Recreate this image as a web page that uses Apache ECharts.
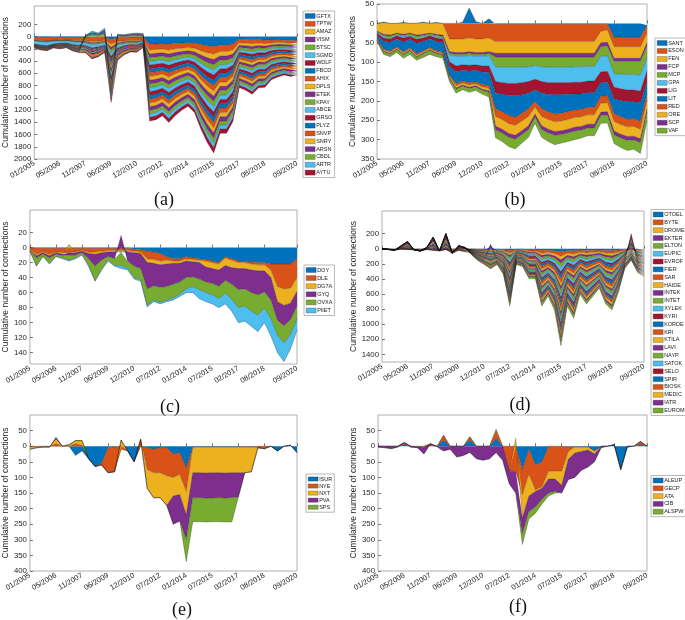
<!DOCTYPE html>
<html><head><meta charset="utf-8">
<script src="https://cdn.jsdelivr.net/npm/echarts@6.0.0/dist/echarts.min.js"></script>
<style>html,body{margin:0;padding:0;background:#fff;}#chart{width:685px;height:620px;}</style>
</head><body><div id="chart"></div>
<script>
// ---------- shared x axis (42 sample points, ticks every 4 samples, last one at the end) ----------
const xTickIdx = [0,4,8,12,16,20,24,28,32,36,41];
const xTickLabels = ['01/2005','05/2006','11/2007','06/2009','12/2010','07/2012','01/2014','07/2015','02/2017','08/2018','09/2020'];

// ---------- y tick values ----------
const yTicksA = [200,0,-200,-400,-600,-800,-1000,-1200,-1400,-1600,-1800,-2000];
const yTicksB = [50,0,-50,-100,-150,-200,-250,-300,-350];
const yTicksC = [20,0,-20,-40,-60,-80,-100,-120,-140];
const yTicksD = [200,0,-200,-400,-600,-800,-1000,-1200,-1400];
const yTicksE = [50,0,-50,-100,-150,-200,-250,-300,-350,-400];
const yTicksF = [50,0,-50,-100,-150,-200,-250,-300,-350,-400];

// ---------- panel (a) ----------
const namesA = ['GFTX','TPTW','AMAZ','VISM','BTSC','SGMD','WDLF','FBCD','AHIX','DPLS','ETEK','KPAY','ABCE','GRSO','PLYZ','SNVP','SNRY','ARSN','CBDL','ARTR','AYTU'];
const a_GFTX = [-4,-5,-5,-4,-6,-5,-6,-7,-8,-10,-9,-7,-50,-12,-10,-8,-8,-5,-125,-120,-115,-125,-110,-105,-100,-105,-130,-150,-160,-140,-140,-125,-40,-45,-50,-45,-60,-55,-50,-60,-65,-55];
const a_TPTW = [-55,-60,-65,-55,-45,-50,-55,-60,-60,-70,-65,-55,-70,-70,-60,-55,-60,-50,-95,-90,-90,-95,-90,-85,-80,-85,-100,-115,-125,-105,-105,-95,-60,-62,-65,-60,-55,-48,-45,-42,-44,-42];
const a_AMAZ = [-4,-6,-5,-4,-7,-5,-8,-9,-13,-19,-17,-13,-52,-21,-16,-13,-13,-8,-64,-62,-60,-65,-60,-55,-52,-58,-70,-80,-88,-73,-72,-64,-40,-42,-45,-40,-39,-33,-31,-29,-30,-29];
const a_VISM = [-3,-5,-4,-4,-6,-4,-7,-7,-11,-17,-15,-11,-48,-19,-14,-11,-11,-7,-60,-60,-57,-62,-57,-53,-50,-55,-67,-77,-85,-70,-70,-61,-38,-40,-43,-38,-37,-31,-29,-27,-28,-27];
const a_BTSC = [-5,-5,-6,-4,-6,-6,-7,-9,-12,-18,-16,-12,-50,-20,-15,-12,-12,-8,-62,-61,-58,-63,-58,-54,-51,-56,-68,-78,-86,-71,-71,-62,-39,-41,-44,-39,-38,-32,-30,-28,-29,-28];
const a_SGMD = [-50,-60,-65,-50,-40,-35,-45,-50,-40,-50,-45,-40,-50,-45,-35,-30,-30,-20,-58,-59,-55,-60,-56,-52,-49,-54,-66,-75,-83,-69,-69,-60,-37,-40,-42,-37,-36,-30,-29,-27,-28,-27];
const a_WDLF = [-4,-5,-5,-4,-6,-5,-7,-8,-12,-18,-16,-12,-50,-20,-15,-12,-12,-8,-65,-63,-60,-64,-60,-56,-52,-57,-70,-80,-88,-72,-73,-63,-40,-42,-46,-40,-39,-33,-31,-29,-30,-29];
const a_FBCD = [-4,-4,-5,-4,-5,-5,-7,-8,-11,-17,-16,-11,-49,-19,-14,-12,-11,-7,-60,-60,-57,-62,-56,-53,-50,-55,-66,-76,-85,-70,-70,-61,-38,-40,-43,-38,-37,-31,-30,-28,-28,-27];
const a_AHIX = [-4,-5,-4,-4,-6,-5,-6,-8,-12,-18,-16,-12,-51,-20,-15,-12,-12,-8,-63,-62,-59,-64,-59,-55,-52,-57,-69,-79,-87,-72,-72,-63,-40,-42,-45,-40,-39,-33,-31,-29,-30,-29];
const a_DPLS = [-4,-5,-5,-4,-6,-5,-7,-8,4,18,12,28,-50,8,6,10,12,10,-61,-61,-58,-62,-58,-54,-51,-56,-68,-78,-86,-71,-71,-62,-39,-41,-44,-39,-38,-32,-30,-28,-29,-28];
const a_ETEK = [-4,-5,-5,-4,-6,-5,-7,-8,-12,-18,-16,-12,-50,-20,-15,-12,-12,-8,-60,-59,-56,-61,-56,-52,-50,-54,-66,-76,-84,-69,-69,-60,-38,-40,-43,-38,-37,-31,-29,-27,-28,-27];
const a_KPAY = [-4,-5,-5,-4,-6,-5,-7,-8,5,17,13,27,-50,9,5,11,12,9,-63,-62,-59,-64,-59,-55,-52,-57,-69,-79,-87,-72,-72,-63,-40,-42,-45,-40,-39,-33,-31,-29,-30,-29];
const a_ABCE = [-4,-5,-5,-4,-6,-5,-7,-8,-12,-18,-16,-12,-50,-20,-15,-12,-12,-8,-64,-63,-60,-65,-60,-56,-53,-58,-70,-80,-88,-73,-73,-64,-40,-42,-45,-40,-39,-33,-31,-29,-30,-29];
const a_GRSO = [-5,-5,-5,-4,-6,-5,-7,-8,-12,-18,-16,-12,-50,-20,-15,-12,-12,-8,-62,-61,-58,-63,-58,-54,-51,-56,-68,-78,-86,-71,-71,-62,-39,-41,-44,-39,-38,-32,-30,-28,-29,-28];
const a_PLYZ = [-4,-5,-5,-4,-6,-5,-7,-8,4,18,11,28,-50,7,6,10,12,10,-60,-60,-57,-62,-57,-53,-50,-55,-67,-77,-85,-70,-70,-61,-38,-40,-43,-38,-37,-31,-29,-27,-28,-27];
const a_SNVP = [-4,-5,-6,-4,-6,-5,-7,-8,-12,-18,-16,-12,-50,-20,-15,-12,-12,-8,-62,-61,-58,-63,-58,-54,-51,-56,-68,-78,-86,-71,-71,-62,-39,-41,-44,-39,-38,-32,-30,-28,-29,-28];
const a_SNRY = [-4,-5,-5,-4,-6,-5,-7,-8,-12,-18,-16,-12,-50,-20,-15,-12,-12,-8,-61,-60,-57,-62,-57,-53,-50,-55,-67,-77,-85,-70,-70,-61,-38,-40,-43,-38,-37,-31,-29,-27,-28,-27];
const a_ARSN = [-4,-5,-5,-4,-6,-5,-7,-8,3,19,12,29,-50,8,7,9,12,11,-63,-62,-59,-64,-59,-55,-52,-57,-69,-79,-87,-72,-72,-63,-40,-42,-45,-40,-39,-33,-31,-29,-30,-29];
const a_CBDL = [-4,-5,-5,-4,-6,-5,-7,-8,-12,-18,-16,-12,-50,-20,-15,-12,-12,-8,-56,-55,-52,-57,-52,-49,-46,-50,-61,-70,-77,-64,-64,-56,-35,-37,-40,-35,-34,-29,-27,-25,-26,-25];
const a_ARTR = [-4,-5,-5,-4,-6,-5,-7,-8,4,18,12,28,-50,8,6,10,12,10,-55,-55,-52,-56,-52,-48,-46,-50,-61,-70,-77,-64,-64,-56,-35,-37,-40,-35,-34,-29,-27,-25,-26,-25];
const a_AYTU = [-8,-10,-12,-8,-10,-8,-10,-10,-14,-20,-18,-14,-55,-22,-16,-14,-14,-10,-62,-61,-58,-63,-58,-54,-51,-56,-68,-78,-86,-71,-71,-62,-39,-41,-44,-39,-38,-32,-30,-28,-29,-28];
const valuesA = [a_GFTX,a_TPTW,a_AMAZ,a_VISM,a_BTSC,a_SGMD,a_WDLF,a_FBCD,a_AHIX,a_DPLS,a_ETEK,a_KPAY,a_ABCE,a_GRSO,a_PLYZ,a_SNVP,a_SNRY,a_ARSN,a_CBDL,a_ARTR,a_AYTU];

// ---------- panel (b) ----------
const namesB = ['SANT','ESON','FEN','FCP','MCP','GPA','LIG','LIT','RED','ORE','SCP','VAF'];
const b_SANT = [0,3,0,0,2,0,0,3,0,2,0,0,0,3,40,5,0,12,-2,-2,-2,-2,-2,-2,-2,-2,-2,-2,-2,-2,-2,-2,-2,-2,-2,-2,-35,-35,-35,-35,-35,-5];
const b_ESON = [0,0,0,0,0,0,0,0,0,0,0,-40,-40,-40,-38,-40,-40,-38,-45,-45,-45,-45,-45,-45,-45,-45,-45,-45,-45,-45,-45,-45,-45,-45,-18,-15,-25,-25,-25,-25,-25,-20];
const b_FEN = [-20,-28,-30,-25,-28,-25,-30,-28,-25,-28,-30,-33,-35,-35,-35,-35,-35,-35,-30,-30,-30,-30,-30,-30,-30,-30,-30,-30,-30,-30,-30,-30,-30,-30,-30,-32,-30,-30,-30,-30,-30,-25];
const b_FCP = [-2,-3,-3,-2,-3,-2,-3,-3,-2,-3,-3,-4,-5,-5,-5,-5,-5,-5,-10,-10,-10,-10,-10,-10,-10,-10,-10,-10,-10,-10,-10,-10,-10,-10,-10,-10,-8,-8,-8,-8,-8,-8];
const b_MCP = [-2,-3,-3,-2,-3,-3,-3,-3,-2,-3,-3,-4,-5,-5,-5,-5,-5,-5,-25,-26,-26,-26,-26,-25,-22,-25,-26,-26,-26,-26,-25,-25,-24,-24,-25,-25,-32,-33,-34,-34,-35,-30];
const b_GPA = [-2,-4,-4,-3,-4,-3,-5,-4,-3,-4,-4,-18,-25,-22,-25,-22,-25,-27,-38,-40,-42,-42,-40,-38,-35,-38,-40,-40,-40,-40,-40,-40,-38,-38,-40,-40,-35,-38,-40,-40,-42,-35];
const b_LIG = [-5,-8,-9,-8,-10,-8,-10,-9,-8,-9,-10,-12,-15,-14,-15,-14,-16,-17,-30,-30,-31,-32,-31,-30,-28,-30,-30,-31,-31,-30,-30,-30,-30,-30,-28,-28,-30,-30,-30,-30,-30,-28];
const b_LIT = [-8,-20,-22,-20,-25,-22,-27,-24,-22,-23,-24,-22,-30,-28,-30,-30,-32,-33,-40,-45,-52,-55,-48,-40,-30,-40,-45,-50,-48,-45,-42,-40,-38,-38,-35,-35,-38,-42,-45,-44,-48,-30];
const b_RED = [-2,-3,-3,-3,-3,-3,-4,-3,-3,-3,-3,-4,-6,-5,-6,-5,-6,-7,-20,-20,-21,-21,-20,-20,-14,-20,-20,-20,-20,-20,-19,-19,-19,-19,-18,-18,-20,-20,-20,-20,-20,-18];
const b_ORE = [-2,-3,-3,-3,-3,-3,-4,-3,-3,-3,-3,-4,-6,-5,-6,-5,-6,-7,-25,-25,-25,-26,-25,-24,-18,-24,-25,-25,-25,-25,-25,-25,-24,-24,-23,-23,-25,-25,-25,-25,-25,-22];
const b_SCP = [-1,-2,-2,-2,-2,-2,-2,-2,-2,-2,-2,-2,-3,-3,-3,-3,-3,-4,-10,-10,-10,-10,-10,-10,-8,-10,-10,-10,-10,-10,-10,-10,-10,-10,-9,-9,-10,-10,-10,-10,-10,-8];
const b_VAF = [-3,-6,-7,-7,-9,-9,-7,-9,-10,-8,-8,-7,-10,-9,-10,-9,-10,-12,-20,-22,-24,-25,-22,-20,-16,-20,-22,-24,-22,-22,-22,-20,-20,-20,-20,-20,-22,-24,-26,-24,-28,-22];
const valuesB = [b_SANT,b_ESON,b_FEN,b_FCP,b_MCP,b_GPA,b_LIG,b_LIT,b_RED,b_ORE,b_SCP,b_VAF];

// ---------- panel (c) ----------
const namesC = ['DOY','DLE','DG7A','GYQ','OVXA','PIIET'];
const c_DOY = [0,-1,-1,-1,-1,-1,-1,-1,-1,-1,-1,-1,-1,-1,-1,-1,-2,-3,-5,-6,-8,-12,-15,-15,-12,-14,-15,-16,-18,-20,-12,-15,-18,-18,-20,-20,-20,-22,-22,-22,-22,-15];
const c_DLE = [-3,-8,-5,-8,-5,-6,-6,-5,-3,-5,-5,-4,-3,-3,-3,-3,-3,-3,-10,-10,-10,-5,-3,-3,-3,-2,-2,-2,-2,-2,-2,-2,-2,-2,-2,-3,-3,-8,-30,-33,-32,-25];
const c_DG7A = [-1,-2,-1,-2,-1,-2,4,-1,-1,-2,-3,-2,-2,-2,-2,-2,-2,-2,-5,-5,-5,-5,-3,-3,-3,-3,-3,-8,-8,-8,-10,-10,-8,-8,-8,-8,-8,-10,-20,-22,-20,-18];
const c_GYQ = [0,-3,-2,-3,-2,-2,-3,-3,-2,-7,-16,-10,-6,-9,16,-12,-18,-20,-35,-30,-30,-30,-28,-25,-22,-20,-22,-20,-20,-22,-20,-22,-28,-27,-30,-32,-28,-30,-25,-27,-22,-20];
const c_OVXA = [-1,-10,-3,-7,-3,-3,-7,-4,-2,-9,-19,-12,-5,-9,-18,-10,-15,-15,-22,-19,-20,-18,-18,-16,-15,-13,-14,-14,-15,-16,-17,-20,-24,-23,-25,-27,-22,-25,-20,-23,-20,-17];
const c_PIIET = [0,-1,0,-1,0,-1,-1,-1,-1,-1,-1,-1,-1,-1,-4,-2,-2,-2,-2,-2,-2,-2,-3,-3,-5,-8,-12,-12,-12,-12,-14,-16,-20,-20,-20,-22,-19,-23,-23,-25,-19,-15];
const valuesC = [c_DOY,c_DLE,c_DG7A,c_GYQ,c_OVXA,c_PIIET];

// ---------- panel (d) ----------
const namesD = ['OTOEL','BYTE','DROME','EKTER','ELTON','EUPIC','EVROF','FIER','SAR','HAIDE','INTEK','INTET','XYLEK','KYRI','KORDE','KRI','KTILA','LAVI','NAYP','SATOK','SELO','SPIR','BIOSK','MEDIC','IATR','EUROM'];
const d_OTOEL = [0,-1,-2,-1,-1,-2,-2,-1,-2,-3,-1,-5,-2,-5,-2,-5,-6,-9,-6,-10,-23,-6,-7,-12,-12,-23,-19,-25,-39,-23,-28,-18,-22,-19,-16,-22,-25,-18,-8,-6,-10,-11];
const d_BYTE = [0,-5,-10,-2,-4,-8,-20,-4,-10,-15,-4,-30,-10,-15,-4,-7,-10,-13,-10,-16,-35,-10,-11,-18,-18,-35,-29,-37,-59,-35,-42,-28,-34,-29,-24,-34,-37,-26,-12,-10,-14,-17];
const d_DROME = [0,0,0,0,0,0,0,0,0,0,0,0,0,0,-3,-6,-8,-11,-8,-13,-29,-8,-9,-15,-15,-29,-24,-31,-49,-29,-35,-23,-28,-24,-20,-28,-31,-22,-10,-8,-12,-14];
const d_EKTER = [0,0,0,5,12,0,0,2,19,0,25,0,5,2,-3,-5,-7,30,-7,-12,-26,-7,-8,-14,-14,-26,-22,-28,-44,-26,-32,-21,-25,-22,-18,-25,-28,-20,-9,25,-11,-13];
const d_ELTON = [0,0,0,5,12,0,0,2,19,0,25,0,5,2,-3,-7,-9,-12,-9,-14,-32,-9,-10,-17,-17,-32,-26,-34,-54,-32,-39,-25,-31,-26,-22,-31,-34,-24,-11,25,-13,-15];
const d_EUPIC = [0,-1,-2,-1,-2,-2,-3,-2,-3,-4,-2,-8,-3,-7,-4,-7,-10,-13,-10,-16,-35,-10,-11,-18,-18,-35,-29,-37,-59,-35,-42,-28,-34,-29,-24,-34,-37,-26,-12,-10,-14,-17];
const d_EVROF = [0,0,0,5,12,0,0,2,19,0,25,0,5,2,-2,-5,-6,-9,-6,-10,-23,-6,-7,-12,-12,-23,-19,-25,-39,-23,-28,-18,-22,-19,-16,-22,-25,-18,-8,25,-10,-11];
const d_FIER = [0,0,0,5,12,0,0,2,19,0,25,0,5,2,-3,-6,-8,-11,-8,-13,-29,-8,-9,-15,-15,-29,-24,-31,-49,-29,-35,-23,-28,-24,-20,-28,-31,-22,-10,25,-12,-14];
const d_SAR = [0,-1,-2,0,-1,-1,-2,-1,-2,-3,-1,-7,-2,-5,-4,-7,-10,-13,-10,-16,-35,-10,-11,-18,-18,-35,-29,-37,-59,-35,-42,-28,-34,-29,-24,-34,-37,-26,-12,-10,-14,-17];
const d_HAIDE = [0,0,0,5,12,0,0,2,19,0,25,0,5,2,-3,-6,-8,-11,-8,-13,-29,-8,-9,-15,-15,-29,-24,-31,-49,-29,-35,-23,-28,-24,-20,-28,-31,-22,-10,25,-12,-14];
const d_INTEK = [0,0,0,5,12,0,0,2,19,0,25,0,5,2,-3,-5,-7,-10,-7,-12,-26,-7,-8,-14,-14,-26,-22,-28,-44,-26,-32,-21,-25,-22,-18,-25,-28,-20,-9,25,-11,-13];
const d_INTET = [0,0,0,0,0,0,0,0,0,0,0,0,0,0,-3,-7,-9,-12,-9,-14,-32,-9,-10,-17,-17,-32,-26,-34,-54,-32,-39,-25,-31,-26,-22,-31,-34,-24,-11,-9,-13,-15];
const d_XYLEK = [0,0,0,0,0,0,0,0,0,0,0,0,0,0,-3,-6,-8,-11,-8,-13,-29,-8,-9,-15,-15,-29,-24,-31,-49,-29,-35,-23,-28,-24,-20,-28,-31,-22,-10,-8,-12,-14];
const d_KYRI = [0,0,0,5,12,0,0,2,19,0,25,0,5,2,-2,-5,-6,-9,-6,-10,-23,-6,-7,-12,-12,-23,-19,-25,-39,-23,-28,-18,-22,-19,-16,-22,-25,-18,-8,25,-10,-11];
const d_KORDE = [0,0,0,0,0,0,0,0,0,0,0,0,0,0,-3,-6,-8,-11,-8,-13,-29,-8,-9,-15,-15,-29,-24,-31,-49,-29,-35,-23,-28,-24,-20,-28,-31,-22,-10,-8,-12,-14];
const d_KRI = [0,-2,-4,-1,-2,-2,-3,-2,-3,-5,-2,-10,-3,-8,-4,-7,-10,-13,-10,-16,-35,-10,-11,-18,-18,-35,-29,-37,-59,-35,-42,-28,-34,-29,-24,-34,-37,-26,-12,-10,-14,-17];
const d_KTILA = [0,0,0,0,0,0,0,0,0,0,0,0,0,0,-3,-6,-8,-11,-8,-13,-29,-8,-9,-15,-15,-29,-24,-31,-49,-29,-35,-23,-28,-24,-20,-28,-31,-22,-10,-8,-12,-14];
const d_LAVI = [0,0,0,5,12,0,0,2,19,0,25,0,5,2,-3,-5,-7,30,-7,-12,-26,-7,-8,-14,-14,-26,-22,-28,-44,-26,-32,-21,-25,-22,-18,-25,-28,-20,-9,25,-11,-13];
const d_NAYP = [0,0,0,0,0,0,0,0,0,0,0,0,0,0,-3,-7,-9,-12,-9,-14,-32,-9,-10,-17,-17,-32,-26,-34,-54,-32,-39,-25,-31,-26,-22,-31,-34,-24,-11,-9,-13,-15];
const d_SATOK = [0,0,0,0,0,0,0,0,0,0,0,0,0,0,-3,-6,-8,-11,-8,-13,-29,-8,-9,-15,-15,-29,-24,-31,-49,-29,-35,-23,-28,-24,-20,-28,-31,-22,-10,-8,-12,-14];
const d_SELO = [0,0,0,0,0,0,0,0,0,0,0,0,0,0,-2,-5,-6,-9,-6,-10,-23,-6,-7,-12,-12,-23,-19,-25,-39,-23,-28,-18,-22,-19,-16,-22,-25,-18,-8,-6,-10,-11];
const d_SPIR = [0,0,0,0,0,0,0,0,0,0,0,0,0,0,-3,-6,-8,-11,-8,-13,-29,-8,-9,-15,-15,-29,-24,-31,-49,-29,-35,-23,-28,-24,-20,-28,-31,-22,-10,-8,-12,-14];
const d_BIOSK = [0,0,0,0,0,0,0,0,0,0,0,0,0,0,-3,-6,-8,-11,-8,-13,-29,-8,-9,-15,-15,-29,-24,-31,-49,-29,-35,-23,-28,-24,-20,-28,-31,-22,-10,-8,-12,-14];
const d_MEDIC = [0,0,0,0,0,0,0,0,0,0,0,0,0,0,-3,-6,-8,-11,-8,-13,-29,-8,-9,-15,-15,-29,-24,-31,-49,-29,-35,-23,-28,-24,-20,-28,-31,-22,-10,-8,-12,-14];
const d_IATR = [0,0,0,0,0,0,0,0,0,0,0,0,0,0,-3,-5,-7,-10,-7,-12,-26,-7,-8,-14,-14,-26,-22,-28,-44,-26,-32,-21,-25,-22,-18,-25,-28,-20,-9,-7,-11,-13];
const d_EUROM = [0,0,0,0,0,0,0,0,0,0,0,0,0,0,-4,-8,-10,-14,-10,-17,-38,-10,-12,-20,-20,-38,-31,-40,-64,-38,-46,-30,-36,-31,-26,-36,-40,-29,-13,-10,-16,-18];
const valuesD = [d_OTOEL,d_BYTE,d_DROME,d_EKTER,d_ELTON,d_EUPIC,d_EVROF,d_FIER,d_SAR,d_HAIDE,d_INTEK,d_INTET,d_XYLEK,d_KYRI,d_KORDE,d_KRI,d_KTILA,d_LAVI,d_NAYP,d_SATOK,d_SELO,d_SPIR,d_BIOSK,d_MEDIC,d_IATR,d_EUROM];

// ---------- panel (e) ----------
const namesE = ['ISUR','NYE','NXT','PVA','SPS'];
const e_ISUR = [0,0,0,0,0,0,0,-30,-15,-40,-65,-55,-5,-2,0,-15,-50,0,-5,-10,-5,-5,-25,-20,-70,-2,-2,-2,-2,-2,-2,-2,-2,-2,-2,0,0,0,-15,0,3,-20];
const e_NYE = [-2,-2,-1,-1,8,0,0,8,3,0,0,-5,-80,-80,-10,0,0,22,-70,-75,-80,-90,-75,-70,-75,0,0,0,0,0,0,0,0,0,0,-5,-8,0,0,0,0,0];
const e_NXT = [-8,-3,-2,-2,15,0,5,10,15,0,0,0,0,0,20,0,0,0,-60,-80,-80,-95,-60,-65,-75,-83,-83,-84,-83,-83,-84,-83,-83,-83,-80,0,0,0,0,0,0,0];
const e_PVA = [0,0,0,0,5,0,0,0,0,0,0,0,0,0,0,0,0,0,0,0,0,0,-90,-85,-80,-80,-80,-80,-81,-80,-80,-80,-78,0,0,0,0,0,0,0,0,0];
const e_SPS = [0,0,0,0,0,0,0,0,0,0,0,0,0,0,0,0,0,0,0,0,0,0,0,0,-70,-77,-77,-77,-76,-77,-77,-78,0,0,0,0,0,0,0,0,0,0];
const valuesE = [e_ISUR,e_NYE,e_NXT,e_PVA,e_SPS];

// ---------- panel (f) ----------
const namesF = ['ALEUP','GECP','ATA','CIB','ALSPW'];
const f_ALEUP = [0,0,0,0,5,0,0,0,2,0,20,0,0,0,20,0,0,0,25,0,0,0,-75,-10,-60,-50,0,0,0,-2,-2,-2,-2,-15,0,0,5,-75,0,0,5,0];
const f_GECP = [0,0,0,0,7,0,-2,0,6,0,15,0,0,0,10,0,0,0,25,0,-80,-80,-80,-80,-80,-80,-80,-80,-80,-15,0,0,0,0,0,0,0,0,0,0,10,0];
const f_ATA = [0,0,0,0,0,0,0,-3,0,0,0,0,0,0,0,0,0,0,5,0,0,25,-75,-70,-5,-5,-25,-25,-45,-25,-20,-15,-10,-10,0,0,0,0,0,0,0,0];
const f_CIB = [-3,-5,-8,-3,0,-3,-3,-22,0,-2,-15,-10,-35,-30,-20,-40,-45,-40,-20,-45,-40,-70,-50,-50,-50,-35,-45,-40,-25,-65,-78,-60,-55,-25,-5,0,0,0,-3,0,0,0];
const f_ALSPW = [0,0,0,0,0,0,0,0,0,0,0,0,0,0,0,0,0,0,0,0,0,0,-35,-23,-20,-15,-10,-5,0,0,0,0,0,0,0,0,0,0,0,0,0,0];
const valuesF = [f_ALEUP,f_GECP,f_ATA,f_CIB,f_ALSPW];

// ---------- styling / layout ----------
const PALETTE = ['#0072BD','#D95319','#EDB120','#7E2F8E','#77AC30','#4DBEEE','#A2142F'];
const panels = [
  {names:namesA, values:valuesA, grid:{left:32,top:6,width:265,height:153}, ymin:-2000, ymax:500, ticks:yTicksA, nameGap:22, leg:{left:303,top:11,gap:1.83,h:5}, title:{text:'(a)',x:164,y:200}},
  {names:namesB, values:valuesB, grid:{left:377,top:4,width:270,height:155}, ymin:-350, ymax:50, ticks:yTicksB, nameGap:16, leg:{left:655,top:38,gap:1.97,h:5}, title:{text:'(b)',x:515,y:200}},
  {names:namesC, values:valuesC, grid:{left:28,top:210,width:269,height:154}, ymin:-155, ymax:50, ticks:yTicksC, nameGap:18.5, leg:{left:304,top:265,gap:2.1,h:5}, title:{text:'(c)',x:170,y:407}},
  {names:namesD, values:valuesD, grid:{left:382,top:211,width:262,height:151}, ymin:-1500, ymax:500, ticks:yTicksD, nameGap:21.5, leg:{left:651,top:209.5,gap:1.84,h:5}, title:{text:'(d)',x:520,y:405}},
  {names:namesE, values:valuesE, grid:{left:27,top:415,width:270,height:156}, ymin:-400, ymax:100, ticks:yTicksE, nameGap:17.5, leg:{left:306,top:474,gap:1.05,h:4.2}, title:{text:'(e)',x:182,y:610}},
  {names:namesF, values:valuesF, grid:{left:378,top:415,width:269,height:156}, ymin:-400, ymax:100, ticks:yTicksF, nameGap:17.5, leg:{left:651,top:475.5,gap:1.8,h:5}, title:{text:'(f)',x:518,y:607}}
];

const xCats = Array.from({length: 42}, (_, i) => i);
const tickSet = new Set(xTickIdx);
const labelAt = {};
xTickIdx.forEach((ix, k) => { labelAt[ix] = xTickLabels[k]; });

const option = {
  animation: false,
  backgroundColor: '#ffffff',
  grid: [], xAxis: [], yAxis: [], legend: [], title: [], series: []
};

panels.forEach((p, k) => {
  option.grid.push(Object.assign({show:true, borderColor:'#b0b0b0', borderWidth:1, containLabel:false}, p.grid));
  option.xAxis.push({
    type:'category', gridIndex:k, data:xCats, boundaryGap:false,
    axisLine:{show:false}, splitLine:{show:false},
    axisTick:{show:true, inside:true, length:3, interval:(i)=>tickSet.has(i), lineStyle:{color:'#777'}},
    axisLabel:{interval:(i)=>tickSet.has(i), formatter:(v,i)=>labelAt[i] || '', rotate:30, fontSize:7.5, color:'#262626', margin:4, fontFamily:'Liberation Sans, Arial, sans-serif'}
  });
  option.yAxis.push({
    type:'value', gridIndex:k, min:p.ymin, max:p.ymax,
    axisLine:{show:false}, splitLine:{show:false},
    axisTick:{show:true, inside:true, length:3, customValues:p.ticks, lineStyle:{color:'#777'}},
    axisLabel:{customValues:p.ticks, formatter:(v)=>String(Math.abs(v)), fontSize:7.8, color:'#262626', margin:3, fontFamily:'Liberation Sans, Arial, sans-serif'},
    name:'Cumulative number of connections', nameLocation:'middle', nameRotate:90, nameGap:p.nameGap,
    nameTextStyle:{fontSize:8.5, color:'#262626', fontFamily:'Liberation Sans, Arial, sans-serif'}
  });
  option.legend.push({
    data:p.names, orient:'vertical', left:p.leg.left, top:p.leg.top, itemWidth:10, itemHeight:p.leg.h, itemGap:p.leg.gap,
    icon:'rect', padding:[2,2,2,2], borderColor:'#a6a6a6', borderWidth:0.8, backgroundColor:'#ffffff',
    selectedMode:false,
    itemStyle:{borderColor:'#333', borderWidth:0.3},
    textStyle:{fontSize:5.5, lineHeight:p.leg.h, color:'#222', fontFamily:'Liberation Sans, Arial, sans-serif', padding:[0,0,0,-4]}
  });
  option.title.push({
    text:p.title.text, left:p.title.x, top:p.title.y - 9, textAlign:'center', padding:0,
    textStyle:{fontFamily:'Liberation Serif, DejaVu Serif, serif', fontSize:18, fontWeight:'normal', color:'#111'}
  });
  p.names.forEach((nm, j) => {
    const col = PALETTE[j % 7];
    option.series.push({
      name:nm, type:'line', xAxisIndex:k, yAxisIndex:k, stack:'stk'+k, data:p.values[j],
      symbol:'none', showSymbol:false, smooth:false, silent:true,
      itemStyle:{color:col}, lineStyle:{width:0.5, color:'#111', opacity:0.5},
      areaStyle:{color:col, opacity:1}, emphasis:{disabled:true}
    });
  });
});

const chart = echarts.init(document.getElementById('chart'), null, {renderer:'canvas'});
chart.setOption(option);
</script></body></html>
